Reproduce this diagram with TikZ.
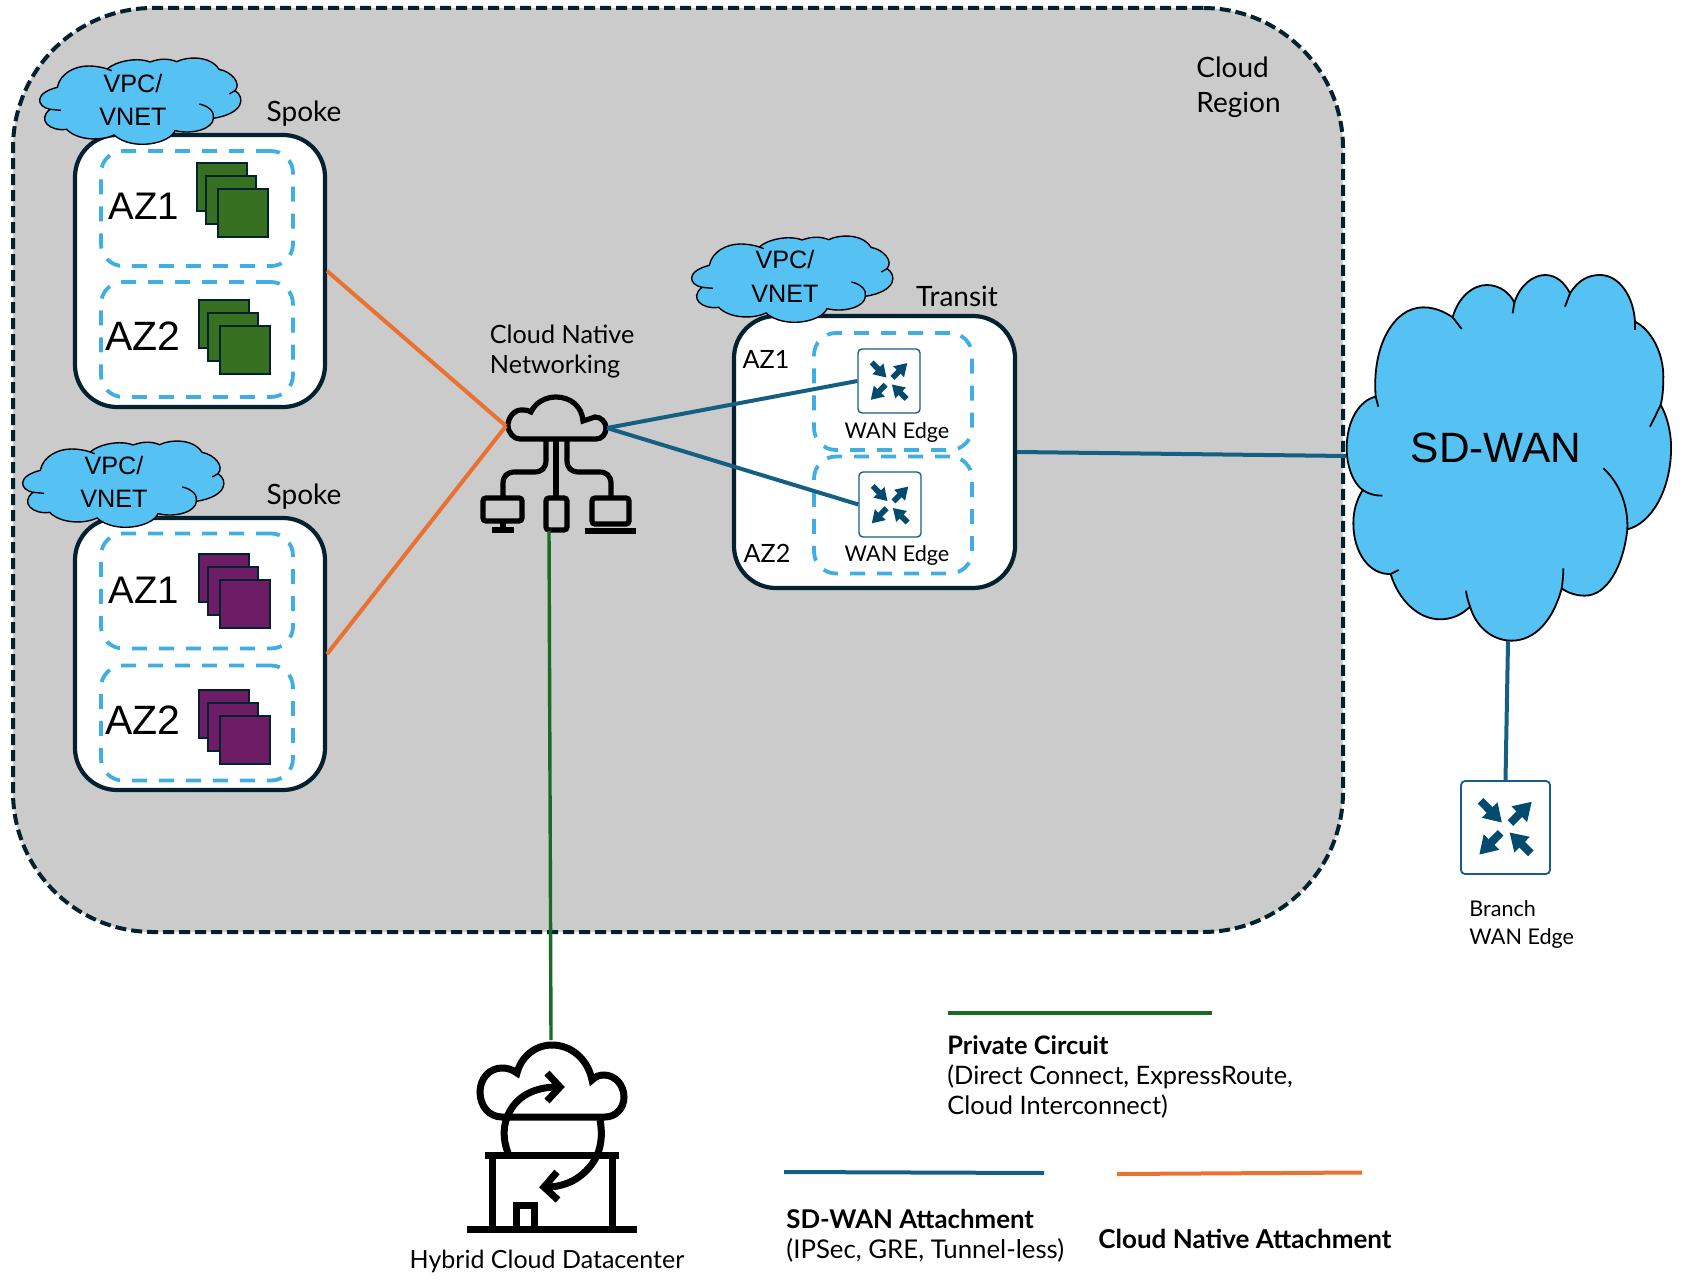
\documentclass[tikz,border=0pt]{standalone}
\usepackage{fontspec}
\setmainfont{Lato}
\newfontfamily\azfont{Liberation Sans}
\usepackage{xcolor}
\usetikzlibrary{arrows.meta,calc}

\definecolor{regiongray}{HTML}{CBCBCB}
\definecolor{outline}{HTML}{04212F}
\definecolor{azblue}{HTML}{41AEE3}
\definecolor{cloudblue}{HTML}{56C1F3}
\definecolor{sdwanblue}{HTML}{156082}
\definecolor{natorange}{HTML}{E97132}
\definecolor{circuitgreen}{HTML}{196B24}
\definecolor{vmgreen}{HTML}{367020}
\definecolor{vmpurple}{HTML}{6C1D66}
\definecolor{arrowblue}{HTML}{034B6E}

\tikzset{
  regionbox/.style={draw=outline,fill=regiongray,line width=2pt,rounded corners=70pt,
    dash pattern=on 5.5pt off 2.5pt,minimum width=665pt,minimum height=462pt,inner sep=0pt},
  vpcbox/.style={draw=outline,fill=white,line width=2.1pt,rounded corners=21pt,
    minimum width=125pt,minimum height=136pt,inner sep=0pt},
  azbox/.style={draw=azblue,line width=1.9pt,rounded corners=11pt,
    dash pattern=on 7.5pt off 6pt,minimum width=96pt,minimum height=57.5pt,inner sep=0pt},
  tinybox/.style={azbox,minimum width=79pt,minimum height=58.5pt},
  routerbox/.style={draw=sdwanblue,fill=white,line width=.7pt,rounded corners=2pt,inner sep=0pt},
  txt/.style={font=\fontsize{12.6}{15}\selectfont,inner sep=0pt,align=left},
  bigtxt/.style={txt,font=\fontsize{14}{17}\selectfont},
  edgetxt/.style={txt,font=\fontsize{10.8}{13}\selectfont},
  boldtxt/.style={txt,font=\fontsize{13}{15}\selectfont\bfseries},
  aztxt/.style={font=\azfont\fontsize{20.5}{24}\selectfont,inner sep=0pt},
  vpctxt/.style={font=\azfont\fontsize{12.6}{15}\selectfont,inner sep=0pt},
  cloudshape/.style={draw=black,fill=cloudblue,line width=.7pt},
  icon/.style={draw=black,line width=2.6pt},
  bigicon/.style={draw=black,line width=3.5pt},
  sdwanlink/.style={draw=sdwanblue,line width=2pt},
  natlink/.style={draw=natorange,line width=2pt},
  privatelink/.style={draw=circuitgreen,line width=1.7pt}
}

% small VPC cloud, drawn at its own offset
\newcommand{\vpccloud}[2]{
  \begin{scope}[shift={(#1,#2)},scale=1/3]
    \draw[cloudshape] (172,262) .. controls (180,220) and (225,198) .. (265,198)
      .. controls (290,198) and (310,203) .. (322,207)
      .. controls (345,185) and (410,170) .. (450,186)
      .. controls (480,175) and (505,175) .. (530,185)
      .. controls (560,170) and (630,165) .. (657,208)
      .. controls (695,215) and (725,250) .. (705,272)
      .. controls (735,290) and (735,340) .. (640,355)
      .. controls (640,385) and (580,405) .. (525,392)
      .. controls (510,430) and (400,455) .. (342,405)
      .. controls (300,425) and (230,420) .. (200,388)
      .. controls (150,395) and (110,360) .. (150,328)
      .. controls (110,320) and (100,280) .. (172,262) -- cycle;
    \draw[line width=.7pt] (322,207) -- (335,212);
    \draw[line width=.7pt] (705,272) -- (688,282);
    \draw[line width=.7pt] (598,312) .. controls (625,318) and (645,335) .. (640,355);
    \draw[line width=.7pt] (150,328) -- (183,331);
  \end{scope}
}

% stack of three instances
\newcommand{\vmstack}[3]{
  \foreach \i/\j in {0/0, 9/13, 21/26} {
    \draw[draw=outline,fill=#3,line width=1pt] (#1+\i,#2+\j) rectangle ++(50,48);
  }
}

% four arrows of the router icon
\newcommand{\routerarrows}[2]{
  \begin{scope}[shift={(#1.center)},x=#2*0.5pt,y=-#2*0.5pt,
      line width=#2*0.09pt,draw=arrowblue,-{Triangle[length=0pt 2.2,width=0pt 2.6]}]
    \draw (-.56,-.60) -- (-.08,-.11);
    \draw (.11,-.10) -- (.59,-.58);
    \draw (-.11,.12) -- (-.59,.61);
    \draw (.57,.58) -- (.09,.11);
  \end{scope}
}

\begin{document}
\begin{tikzpicture}[x=0.5pt,y=-0.5pt]
  \useasboundingbox (0,0) rectangle (1684,1288);

  \node[regionbox] (region) at (678,470) {};
  \node[bigtxt,anchor=west] (regionlabel) at (1196,87.5) {Cloud\\[.5pt]Region};

  % spokes
  \node[vpcbox] (spokeA) at (200,271) {};
  \node[vpcbox] (spokeB) at (200,654) {};
  \node[azbox] (spokeAone) at (197,208.5) {};
  \node[azbox] (spokeAtwo) at (197,339.5) {};
  \node[azbox] (spokeBone) at (197,591) {};
  \node[azbox] (spokeBtwo) at (197,723) {};
  \node[aztxt,font=\azfont\fontsize{19.2}{24}\selectfont] (azAone) at (144,206) {AZ1};
  \node[aztxt] (azAtwo) at (143,336) {AZ2};
  \node[aztxt,font=\azfont\fontsize{19.2}{24}\selectfont] (azBone) at (144,590) {AZ1};
  \node[aztxt] (azBtwo) at (143,720) {AZ2};
  \vmstack{197}{163}{vmgreen}
  \vmstack{199}{300}{vmgreen}
  \vmstack{199}{554}{vmpurple}
  \vmstack{199}{690}{vmpurple}

  \vpccloud{0}{0}
  \vpccloud{-17}{383}
  \node[vpctxt] (vpcAone) at (133,83) {VPC/};
  \node[vpctxt] (vpcAtwo) at (133,117) {VNET};
  \node[vpctxt] (vpcBone) at (114,465) {VPC/};
  \node[vpctxt] (vpcBtwo) at (114,499) {VNET};
  \node[bigtxt] (spokeAlabel) at (304,114) {Spoke};
  \node[bigtxt] (spokeBlabel) at (304,497) {Spoke};

  % transit
  \node[vpcbox,minimum width=140.5pt] (transit) at (874.5,452) {};
  \node[tinybox] (transitone) at (893,391.5) {};
  \node[tinybox] (transittwo) at (893,515) {};
  \node[routerbox,minimum width=31pt,minimum height=32pt] (edgeA) at (889,381) {};
  \node[routerbox,minimum width=31pt,minimum height=32.5pt] (edgeB) at (890,504.5) {};
  \routerarrows{edgeA}{31}
  \routerarrows{edgeB}{31}
  \node[edgetxt] (edgeAlabel) at (897,433) {WAN Edge};
  \node[edgetxt] (edgeBlabel) at (897,556) {WAN Edge};
  \node[txt] (transitazone) at (766,359) {AZ1};
  \node[txt] (transitaztwo) at (767,553) {AZ2};
  \vpccloud{652}{178}
  \node[vpctxt] (vpcCone) at (785,259) {VPC/};
  \node[vpctxt] (vpcCtwo) at (785,294) {VNET};
  \node[bigtxt] (transitlabel) at (957,296) {Transit};

  % cloud native networking icon
  \node[txt,anchor=west] (netlabel) at (489.5,351.5) {Cloud Native\\[.2pt]Networking};
  \coordinate (netL) at (506,426);
  \coordinate (netR) at (607,428);
  \coordinate (netB) at (549,531);
  \draw[icon] (520,439) -- (596,439) .. controls (602,439) and (606,434) .. (606,428)
    .. controls (606,422) and (601,417) .. (595,417) -- (583,421)
    .. controls (582,406) and (570,397) .. (556,397)
    .. controls (545,397) and (535,403) .. (531,412)
    .. controls (528,410) and (524,410) .. (521,410)
    .. controls (514,410) and (508,418) .. (508,425)
    .. controls (508,433) and (514,439) .. (520,439) -- cycle;
  \draw[icon] (546,441) -- (546,460) .. controls (546,468) and (542,472) .. (534,472)
    -- (515,472) .. controls (507,472) and (503,476) .. (503,484) -- (503,496);
  \draw[icon] (567,441) -- (567,460) .. controls (567,468) and (571,472) .. (579,472)
    -- (599,472) .. controls (607,472) and (611,476) .. (611,484) -- (611,496);
  \draw[icon] (556,441) -- (556,496);
  \draw[icon,rounded corners=1.5pt] (483,498) rectangle (522,521);
  \draw[icon] (503,521) -- (503,530);
  \draw[icon] (492,530) -- (514,530);
  \draw[icon,rounded corners=1.5pt] (546,498) rectangle (567,530);
  \draw[icon,rounded corners=1.5pt] (592,498) rectangle (629,524);
  \draw[icon] (585,531) -- (636,531);

  % SD-WAN cloud
  \begin{scope}[shift={(1340,260)},scale=1/3]
    \draw[cloudshape,line width=.9pt] (107,410) .. controls (95,260) and (160,142) .. (250,142)
      .. controls (290,142) and (320,160) .. (338,172)
      .. controls (355,110) and (400,75) .. (440,75)
      .. controls (480,75) and (510,100) .. (523,128)
      .. controls (540,75) and (580,45) .. (615,45)
      .. controls (650,45) and (675,70) .. (690,100)
      .. controls (715,60) and (745,45) .. (780,45)
      .. controls (835,45) and (880,105) .. (885,185)
      .. controls (935,210) and (970,280) .. (970,350)
      .. controls (970,385) and (968,410) .. (962,435)
      .. controls (985,475) and (995,530) .. (993,575)
      .. controls (990,690) and (935,790) .. (862,808)
      .. controls (850,920) and (800,1007) .. (735,1007)
      .. controls (710,1007) and (685,1000) .. (665,985)
      .. controls (640,1080) and (585,1142) .. (515,1142)
      .. controls (460,1142) and (410,1105) .. (390,1040)
      .. controls (365,1065) and (335,1078) .. (300,1078)
      .. controls (235,1078) and (175,1020) .. (152,942)
      .. controls (90,945) and (40,880) .. (40,790)
      .. controls (40,750) and (50,720) .. (68,690)
      .. controls (40,670) and (20,620) .. (20,565)
      .. controls (20,480) and (60,420) .. (107,410) -- cycle;
    \foreach \a/\b in {338/172, 523/128, 690/100, 885/185, 962/435, 152/942, 107/410} {
      \coordinate (tick\a) at (\a,\b);
    }
    \draw[line width=.9pt] (tick338) -- (365,207);
    \draw[line width=.9pt] (tick523) -- (518,160);
    \draw[line width=.9pt] (tick690) -- (675,140);
    \draw[line width=.9pt] (tick885) -- (885,210);
    \draw[line width=.9pt] (tick962) -- (930,500);
    \draw[line width=.9pt] (tick152) -- (176,930);
    \draw[line width=.9pt] (tick107) -- (115,440);
    \draw[line width=.9pt] (790,625) .. controls (840,670) and (865,740) .. (862,808);
    \draw[line width=.9pt] (670,925) .. controls (670,945) and (668,965) .. (665,985);
    \draw[line width=.9pt] (378,992) .. controls (380,1010) and (385,1025) .. (390,1040);
    \draw[line width=.9pt] (68,690) .. controls (85,702) and (105,707) .. (127,707);
  \end{scope}
  \node[font=\azfont\fontsize{21.2}{25}\selectfont,inner sep=0pt] (sdwan) at (1496,448) {SD-WAN};
  \coordinate (sdwanL) at (1346,456);
  \coordinate (sdwanB) at (1508,641);

  % branch
  \node[routerbox,line width=.9pt,minimum width=44.5pt,minimum height=46.5pt] (branch) at (1505.5,827.5) {};
  \routerarrows{branch}{44.5}
  \node[edgetxt,anchor=west] (branchlabel) at (1469,924.5) {Branch\\[.6pt]WAN Edge};

  % hybrid datacenter icon
  \coordinate (dcT) at (551,1040);
  \draw[bigicon] (502,1117) -- (605,1117) .. controls (616,1117) and (624,1108) .. (624,1097)
    .. controls (624,1085) and (615,1075) .. (604,1075)
    .. controls (600,1075) and (596,1076) .. (592,1080)
    .. controls (588,1060) and (572,1045) .. (552,1045)
    .. controls (535,1045) and (521,1057) .. (517,1073)
    .. controls (512,1069) and (506,1068) .. (502,1068)
    .. controls (489,1068) and (480,1079) .. (480,1092)
    .. controls (480,1106) and (489,1117) .. (502,1117) -- cycle;
  \draw[bigicon] (508,1153) .. controls (503,1140) and (502,1125) .. (510,1111)
    .. controls (518,1096) and (535,1087) .. (557,1087);
  \draw[bigicon] (547,1073) -- (560,1087) -- (547,1101);
  \draw[bigicon] (600,1120) .. controls (603,1135) and (601,1150) .. (594,1161)
    .. controls (585,1175) and (570,1186) .. (549,1187);
  \draw[bigicon] (557,1172) -- (544,1187) -- (558,1200);
  \draw[bigicon] (485,1155) -- (619,1155);
  \draw[bigicon] (492,1155) -- (492,1229);
  \draw[bigicon] (612,1155) -- (612,1229);
  \draw[bigicon] (467,1229) -- (637,1229);
  \draw[bigicon] (516,1229) -- (516,1205.5) -- (534,1205.5) -- (534,1229);
  \node[txt,font=\fontsize{12.5}{15}\selectfont] (dclabel) at (547,1261) {Hybrid Cloud Datacenter};

  % links
  \draw[natlink] (spokeA.east) -- (netL);
  \draw[natlink] (spokeB.east) -- (netL);
  \draw[sdwanlink] (netR) -- (edgeA.west);
  \draw[sdwanlink] (netR) -- (edgeB.west);
  \draw[sdwanlink] (transit.east) -- (sdwanL);
  \draw[sdwanlink] (sdwanB) -- (branch.north);
  \draw[privatelink] (netB) -- (dcT);

  % legend
  \coordinate (greenA) at (948,1013);
  \coordinate (greenB) at (1212,1013);
  \coordinate (blueA) at (784,1172);
  \coordinate (blueB) at (1044,1173);
  \coordinate (orangeA) at (1117,1174);
  \coordinate (orangeB) at (1362,1172.5);
  \draw[privatelink,line width=1.9pt] (greenA) -- (greenB);
  \draw[sdwanlink] (blueA) -- (blueB);
  \draw[natlink] (orangeA) -- (orangeB);
  \node[txt,anchor=west,font=\fontsize{12.7}{15}\selectfont] (privatelabel) at (947,1077) {\textbf{Private Circuit}\\(Direct Connect, ExpressRoute,\\Cloud Interconnect)};
  \node[txt,anchor=west,font=\fontsize{12.9}{15}\selectfont] (sdwanlabel) at (786,1236) {\textbf{SD-WAN Attachment}\\(IPSec, GRE, Tunnel-less)};
  \node[boldtxt,anchor=west] (natlabel) at (1098,1239) {Cloud Native Attachment};
\end{tikzpicture}
\end{document}
